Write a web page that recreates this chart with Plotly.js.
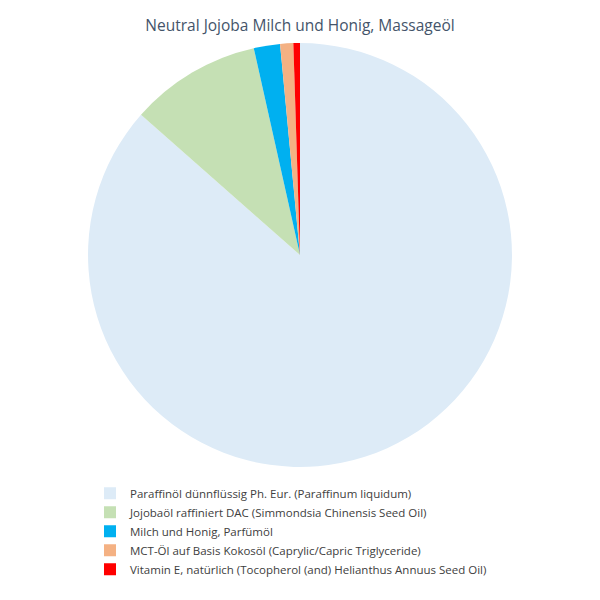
<!DOCTYPE html>
<html>
<head>
<meta charset="utf-8">
<script src="https://cdn.plot.ly/plotly-3.0.1.min.js"></script>
<style>html,body{margin:0;padding:0;background:#fff;}</style>
</head>
<body>
<div id="chart" style="width:600px;height:600px;"></div>
<script>
var labels = [
  "Paraffinöl dünnflüssig Ph. Eur. (Paraffinum liquidum)",
  "Jojobaöl raffiniert DAC (Simmondsia Chinensis Seed Oil)",
  "Milch und Honig, Parfümöl",
  "MCT-Öl auf Basis Kokosöl (Caprylic/Capric Triglyceride)",
  "Vitamin E, natürlich (Tocopherol (and) Helianthus Annuus Seed Oil)"
];
var values = [86.5, 10, 2, 1, 0.5];
var colors = ["#DDEBF7", "#C5E0B4", "#00B0F0", "#F4B183", "#FF0000"];

Plotly.newPlot("chart", [{
  type: "pie",
  labels: labels,
  values: values,
  sort: false,
  direction: "clockwise",
  rotation: 0,
  textinfo: "none",
  hoverinfo: "label+percent",
  marker: {colors: colors, line: {width: 0}},
  domain: {x: [0, 1], y: [0.2217, 0.9283]}
}], {
  width: 600,
  height: 600,
  margin: {l: 0, r: 0, t: 0, b: 0},
  paper_bgcolor: "#fff",
  title: {
    text: "Neutral Jojoba Milch und Honig, Massageöl",
    font: {family: "Open Sans, sans-serif", size: 15.5, color: "#44546A"},
    x: 0.5, xanchor: "center",
    y: 0.957, yanchor: "middle", yref: "paper"
  },
  showlegend: true,
  legend: {
    orientation: "v",
    x: 0.15, xanchor: "left",
    y: 0.202, yanchor: "top",
    font: {family: "Open Sans, sans-serif", size: 11.5, color: "#404040"},
    traceorder: "normal",
    itemwidth: 30,
    tracegroupgap: 0
  }
}, {displayModeBar: false, staticPlot: true});
</script>
</body>
</html>
